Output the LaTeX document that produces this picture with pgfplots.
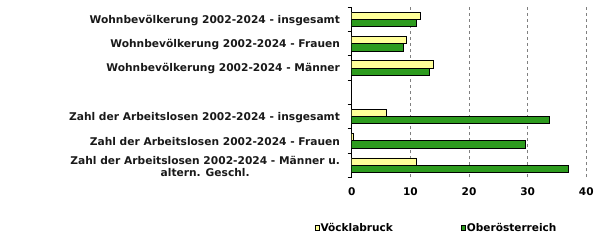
\documentclass[border=0pt]{standalone}
\usepackage{pgfplots}
\pgfplotsset{compat=1.18}
\usepackage{fontspec}
\setmainfont{DejaVu Sans}
\definecolor{vyel}{RGB}{255,255,153}
\definecolor{vgrn}{RGB}{45,155,30}
\begin{document}
\begin{tikzpicture}
\useasboundingbox (0,0) rectangle (605bp,244bp);
\begin{axis}[
  at={(351.7bp,66.7bp)}, anchor=south west,
  scale only axis, width=234.6bp, height=170bp,
  xmin=0, xmax=40, ymin=0.5, ymax=7.5,
  xbar, bar width=7.2bp,
  axis lines*=left,
  x axis line style={draw=none},
  xtick={0,10,20,30,40},
  major x tick style={draw=none},
  xmajorgrids, grid style={gray, dashed, line width=0.6pt},
  ytick={1,2,3,4,5,6,7},
  yticklabels={{Zahl der Arbeitslosen 2002-2024 - Männer u.\\altern. Geschl.},
    {Zahl der Arbeitslosen 2002-2024 - Frauen},
    {Zahl der Arbeitslosen 2002-2024 - insgesamt},
    {},
    {Wohnbevölkerung 2002-2024 - Männer},
    {Wohnbevölkerung 2002-2024 - Frauen},
    {Wohnbevölkerung 2002-2024 - insgesamt}},
  minor ytick={0.5,1.5,2.5,3.5,4.5,5.5,6.5,7.5},
  major y tick style={draw=none},
  minor y tick style={black, line width=0.8pt},
  minor tick length=4bp,
  tick align=outside,
  y axis line style={black, line width=0.8pt},
  yticklabel style={font=\fontsize{10.7}{12.4}\selectfont\bfseries, align=center, text=black!90, xshift=-4bp, yshift=-1bp},
  xticklabel style={font=\fontsize{10.6}{12.4}\selectfont\bfseries, yshift=-3bp},
  /pgf/number format/assume math mode=true,
  legend style={at={(-0.158,-0.297)}, anchor=west, draw=none, fill=none,
    font=\fontsize{10.6}{12.4}\selectfont\bfseries,
    nodes={inner sep=1bp},
    /tikz/every even column/.append style={column sep=67bp},
    inner sep=0pt, outer sep=0pt},
  legend columns=2,
  legend cell align=left,
]
\addplot+[xbar, bar shift=3.6bp, fill=vyel, draw=black, line width=0.8pt,
  legend image code/.code={\draw[fill=vyel, draw=black, line width=0.5pt] (0bp,-2.2bp) rectangle (4.4bp,2.2bp);}]
  coordinates {(11.75,7) (9.37,6) (13.9,5) (5.96,3) (0.28,2) (11.07,1)};
\addplot+[xbar, bar shift=-3.6bp, fill=vgrn, draw=black, line width=0.8pt,
  legend image code/.code={\draw[fill=vgrn, draw=black, line width=0.5pt] (0bp,-2.2bp) rectangle (4.4bp,2.2bp);}]
  coordinates {(11.07,7) (8.8,6) (13.3,5) (33.7,3) (29.6,2) (37.0,1)};
\legend{Vöcklabruck, Oberösterreich}
\end{axis}
\end{tikzpicture}
\end{document}
